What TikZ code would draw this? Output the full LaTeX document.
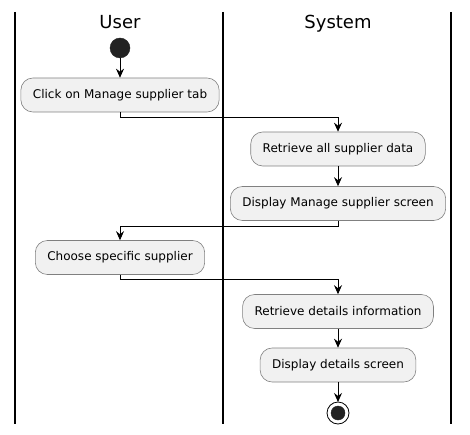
\documentclass[tikz,border=0pt]{standalone}
\usepackage{fontspec}
\setmainfont{DejaVu Sans}
\usetikzlibrary{arrows.meta}
\definecolor{actfill}{HTML}{F1F1F1}
\definecolor{actline}{HTML}{808080}
\definecolor{dotfill}{HTML}{222222}
\tikzset{
  lane/.style={black, line width=1.5pt},
  act/.style={draw=actline, fill=actfill, rounded corners=12pt, line width=0.6pt,
    minimum height=34pt, inner xsep=12pt, font=\fontsize{12}{14}\selectfont},
  flow/.style={black, line width=0.9pt, -{Stealth[length=9pt, width=8pt, inset=3pt]}},
  title/.style={anchor=base, font=\fontsize{18}{21}\selectfont}
}
\begin{document}
\begin{tikzpicture}[x=1pt, y=-1pt]
        \useasboundingbox (0,0) rectangle (470,435);
        % swimlanes
        \draw[lane] (15,12) -- (15,424);
        \draw[lane] (223,12) -- (223,424);
        \draw[lane] (451,12) -- (451,424);
        \node[title] (user) at (120,29) {User};
        \node[title] (system) at (338,29) {System};
        % activities
        \filldraw[dotfill] (120,48) circle (10pt) coordinate (start);
        \node[act] (click) at (120,95) {Click on Manage supplier tab};
        \node[act] (retrieve) at (338,149) {Retrieve all supplier data};
        \node[act] (display) at (338,203.5) {Display Manage supplier screen};
        \node[act] (choose) at (120,257.5) {Choose specific supplier};
        \node[act] (details) at (338,311.5) {Retrieve details information};
        \node[act] (screen) at (338,365) {Display details screen};
        \draw[black, fill=white, line width=0.8pt] (338,413) circle (11pt);
        \filldraw[dotfill] (338,413) circle (7pt);
        \coordinate (stop) at (338,402);
        % connectors
        \draw[flow] (120,58) -- (click.north);
        \draw[flow] (click.south) -- ++(0,5) -| (retrieve.north);
        \draw[flow] (retrieve) -- (display);
        \draw[flow] (display.south) -- ++(0,6) -| (choose.north);
        \draw[flow] (choose.south) -- ++(0,5) -| (details.north);
        \draw[flow] (details) -- (screen);
        \draw[flow] (screen) -- (stop);
    \end{tikzpicture}
\end{document}
